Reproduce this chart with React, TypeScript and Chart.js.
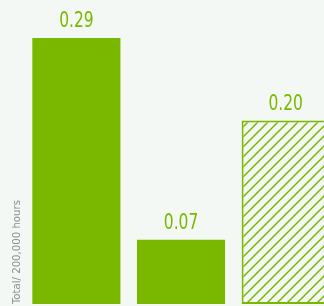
import React, { useEffect, useRef } from "react";
import { Chart, registerables } from "chart.js";

Chart.register(...registerables);

const categories = ["A", "B", "C"];
const values = [0.29, 0.07, 0.2];
const valueLabels = ["0.29", "0.07", "0.20"];
const hatched = [false, false, true];
const yTitle = "Total/ 200,000 hours";

const GREEN = "#7ab800";
const BG = "#f4f8f5";
const FONT = "'Liberation Sans Narrow', 'DejaVu Sans Condensed', 'Liberation Sans', sans-serif";

function makeHatch(): CanvasPattern | string {
  const size = 10;
  const c = document.createElement("canvas");
  c.width = size;
  c.height = size;
  const ctx = c.getContext("2d");
  if (!ctx) return GREEN;
  ctx.fillStyle = BG;
  ctx.fillRect(0, 0, size, size);
  ctx.strokeStyle = GREEN;
  ctx.lineWidth = 1.5;
  ctx.beginPath();
  ctx.moveTo(-2, size + 2);
  ctx.lineTo(size + 2, -2);
  ctx.moveTo(-2, 2);
  ctx.lineTo(2, -2);
  ctx.moveTo(size - 2, size + 2);
  ctx.lineTo(size + 2, size - 2);
  ctx.stroke();
  return ctx.createPattern(c, "repeat") || GREEN;
}

const labelPlugin = {
  id: "valueLabels",
  afterDatasetsDraw(chart: any) {
    const ctx = chart.ctx;
    const meta = chart.getDatasetMeta(0);
    meta.data.forEach((bar: any, i: number) => {
      ctx.save();
      ctx.fillStyle = GREEN;
      ctx.font = `21px ${FONT}`;
      ctx.textAlign = "center";
      ctx.textBaseline = "alphabetic";
      ctx.translate(bar.x, bar.y - 11);
      ctx.scale(0.82, 1);
      ctx.fillText(valueLabels[i], 0, 0);
      ctx.restore();
    });
  },
};

export default function App() {
  const ref = useRef<HTMLCanvasElement | null>(null);

  useEffect(() => {
    document.body.style.margin = "0";
    document.body.style.overflow = "hidden";
    document.body.style.background = BG;
    const canvas = ref.current;
    if (!canvas) return;
    const pattern = makeHatch();
    const chart = new Chart(canvas, {
      type: "bar",
      data: {
        labels: categories,
        datasets: [
          {
            data: values,
            backgroundColor: hatched.map((h) => (h ? pattern : GREEN)),
            borderColor: GREEN,
            borderWidth: hatched.map((h) => (h ? 2 : 0)),
            borderSkipped: false,
            categoryPercentage: 1,
            barPercentage: 0.842,
          },
        ],
      },
      options: {
        animation: false,
        responsive: false,
        maintainAspectRatio: false,
        devicePixelRatio: 1,
        layout: { padding: { top: 0, bottom: 2, left: 0, right: 0 } },
        plugins: {
          legend: { display: false },
          tooltip: { enabled: false },
        },
        scales: {
          x: { display: false },
          y: {
            min: 0,
            max: 0.3315,
            ticks: { display: false },
            grid: { display: false, drawTicks: false },
            border: { display: false },
            title: {
              display: true,
              text: yTitle,
              align: "start",
              color: "#8a8f8c",
              font: { family: FONT, size: 11.3 },
              padding: { top: 10.5, bottom: 0 },
            },
          },
        },
      },
      plugins: [labelPlugin],
    });
    return () => chart.destroy();
  }, []);

  return (
    <div style={{ width: 324, height: 306, overflow: "hidden", position: "relative", background: BG }}>
      <canvas
        ref={ref}
        width={338}
        height={306}
        style={{ position: "absolute", left: 0, top: 0, width: 338, height: 306 }}
      />
    </div>
  );
}
